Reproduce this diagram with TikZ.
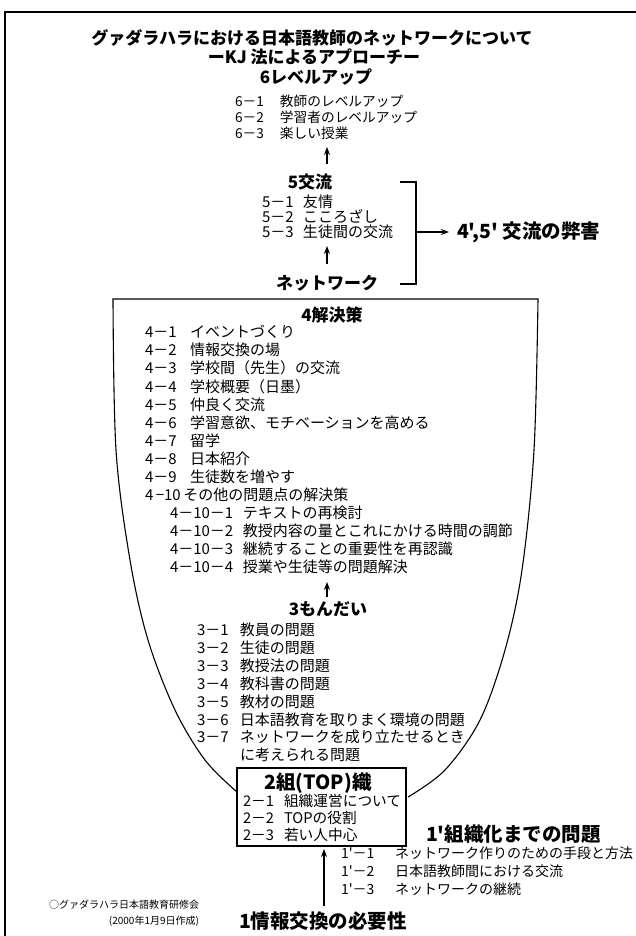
\documentclass[tikz,border=0pt]{standalone}
\usepackage{fontspec}
\newfontfamily\jp{Noto Sans CJK JP}
\usetikzlibrary{arrows.meta}
\newcommand\nb[2]{\makebox[#1][l]{#2}}
\newcommand\dd{－}
\begin{document}
\begin{tikzpicture}[x=1pt,y=-1pt,
  every node/.style={inner sep=0pt,outer sep=0pt},
  titletxt/.style={font=\jp\bfseries\fontsize{17}{20}\selectfont},
  head/.style={font=\jp\bfseries\fontsize{17}{20}\selectfont},
  headL/.style={font=\jp\bfseries\fontsize{19.5}{22}\selectfont},
  itemS/.style={anchor=west,font=\jp\fontsize{13.7}{15}\selectfont},
  item/.style={anchor=west,font=\jp\fontsize{15}{17}\selectfont},
  itemL/.style={anchor=west,font=\jp\fontsize{14.7}{18}\selectfont},
  itemP/.style={anchor=west,font=\jp\fontsize{14}{17}\selectfont},
  note/.style={anchor=east,font=\jp\fontsize{10}{12}\selectfont},
  arr/.style={-{Stealth[length=8pt,width=6pt]},line width=1.3pt},
  frame/.style={line width=1.2pt},
  outline/.style={line width=1.1pt}]
\useasboundingbox (0,0) rectangle (636,936);
% frame
\coordinate (ftl) at (5,12);
\coordinate (ftr) at (636,12);
\coordinate (fbl) at (5,936);
\draw[frame] (ftr) -- (ftl) -- (fbl);
% title
\node[titletxt] (t1) at (312,38) {グァダラハラにおける日本語教師のネットワークについて};
\node[titletxt] (t2) at (314,57) {ーKJ 法によるアプローチー};
% 6
\node[head] (h6) at (316,77) {6レベルアップ};
\node[itemS] (l61) at (235,101) {\nb{45pt}{6\dd 1}教師のレベルアップ};
\node[itemS] (l62) at (235,117) {\nb{45pt}{6\dd 2}学習者のレベルアップ};
\node[itemS] (l63) at (235,133) {\nb{45pt}{6\dd 3}楽しい授業};
\coordinate (a6t) at (327,164);
\coordinate (a6h) at (327,147);
\draw[arr] (a6t) -- (a6h);
% 5
\node[head] (h5) at (310,182) {5交流};
\node[item] (l51) at (262,202) {\nb{41pt}{5\dd 1}友情};
\node[item] (l52) at (262,217) {\nb{41pt}{5\dd 2}こころざし};
\node[item] (l53) at (262,232) {\nb{41pt}{5\dd 3}生徒間の交流};
\coordinate (a5t) at (327,264);
\coordinate (a5h) at (327,246);
\draw[arr] (a5t) -- (a5h);
\node[head] (net) at (327,283) {ネットワーク};
% bracket
\coordinate (b1) at (400,182);
\coordinate (b2) at (416,182);
\coordinate (b3) at (416,284);
\coordinate (b4) at (400,284);
\coordinate (bm) at (416,232);
\draw[frame] (b1) -- (b2) -- (b3) -- (b4);
\node[headL,anchor=west] (harm) at (457,232) {4',5' 交流の弊害};
\draw[arr] (bm) -- ([xshift=-8pt]harm.west);
% U shape
\coordinate (ul) at (113,299);
\coordinate (ur) at (538,299);
\draw[outline] plot[smooth,tension=0.55] coordinates {(237,792) (205,760) (175,710) (148,640) (130,560) (116,450) (113,299)}
  -- plot[smooth,tension=0.55] coordinates {(538,299) (534,450) (522,570) (505,650) (480,720) (445,770) (408,797)};
% 4
\node[head] (h4) at (332,315) {4解決策};
\node[item] (l41) at (145,332) {\nb{45pt}{4\dd 1}イベントづくり};
\node[item] (l42) at (145,350) {\nb{45pt}{4\dd 2}情報交換の場};
\node[item] (l43) at (145,368) {\nb{45pt}{4\dd 3}学校間（先生）の交流};
\node[item] (l44) at (145,387) {\nb{45pt}{4\dd 4}学校概要（日墨）};
\node[item] (l45) at (145,405) {\nb{45pt}{4\dd 5}仲良く交流};
\node[item] (l46) at (145,423) {\nb{45pt}{4\dd 6}学習意欲、モチベーションを高める};
\node[item] (l47) at (145,441) {\nb{45pt}{4\dd 7}留学};
\node[item] (l48) at (145,459) {\nb{45pt}{4\dd 8}日本紹介};
\node[item] (l49) at (145,477) {\nb{45pt}{4\dd 9}生徒数を増やす};
\node[item] (l410) at (145,495) {4\,−10\,その他の問題点の解決策};
\node[item] (l4101) at (170,513) {\nb{73pt}{4\dd 10\dd 1}テキストの再検討};
\node[item] (l4102) at (170,531) {\nb{73pt}{4\dd 10\dd 2}教授内容の量とこれにかける時間の調節};
\node[item] (l4103) at (170,549) {\nb{73pt}{4\dd 10\dd 3}継続することの重要性を再認識};
\node[item] (l4104) at (170,567) {\nb{73pt}{4\dd 10\dd 4}授業や生徒等の問題解決};
\coordinate (a3t) at (327,597);
\coordinate (a3h) at (327,582);
\draw[arr] (a3t) -- (a3h);
% 3
\node[head] (h3) at (328,609) {3もんだい};
\node[item] (l31) at (197,630) {\nb{43pt}{3\dd 1}教員の問題};
\node[item] (l32) at (197,648) {\nb{43pt}{3\dd 2}生徒の問題};
\node[item] (l33) at (197,666) {\nb{43pt}{3\dd 3}教授法の問題};
\node[item] (l34) at (197,684) {\nb{43pt}{3\dd 4}教科書の問題};
\node[item] (l35) at (197,702) {\nb{43pt}{3\dd 5}教材の問題};
\node[item] (l36) at (197,720) {\nb{43pt}{3\dd 6}日本語教育を取りまく環境の問題};
\node[item] (l37) at (197,737) {\nb{43pt}{3\dd 7}ネットワークを成り立たせるとき};
\node[item] (l37b) at (240,755) {に考えられる問題};
% 2 box
\coordinate (bx1) at (237,768);
\coordinate (bx2) at (406,846);
\draw[outline] (bx1) rectangle (bx2);
\node[headL] (h2) at (318,783) {2組(TOP)織};
\node[itemL] (l21) at (243,801) {\nb{41pt}{2\dd 1}組織運営について};
\node[itemL] (l22) at (243,818) {\nb{41pt}{2\dd 2}TOPの役割};
\node[itemL] (l23) at (243,835) {\nb{41pt}{2\dd 3}若い人中心};
% 1'
\node[headL,anchor=west] (h1p) at (426,834) {1'組織化までの問題};
\node[itemP] (l1p1) at (341,853) {\nb{54pt}{1'\dd 1}ネットワーク作りのための手段と方法};
\node[itemP] (l1p2) at (341,871) {\nb{54pt}{1'\dd 2}日本語教師間における交流};
\node[itemP] (l1p3) at (341,889) {\nb{54pt}{1'\dd 3}ネットワークの継続};
% 1
\node[headL,anchor=west] (h1) at (239,921) {1情報交換の必要性};
\coordinate (a1t) at (324,906);
\coordinate (a1h) at (324,849);
\draw[arr] (a1t) -- (a1h);
% note
\node[note] (n1) at (199,905) {○グァダラハラ日本語教育研修会};
\node[note] (n2) at (199,921) {(2000年1月9日作成)};
\end{tikzpicture}
\end{document}
